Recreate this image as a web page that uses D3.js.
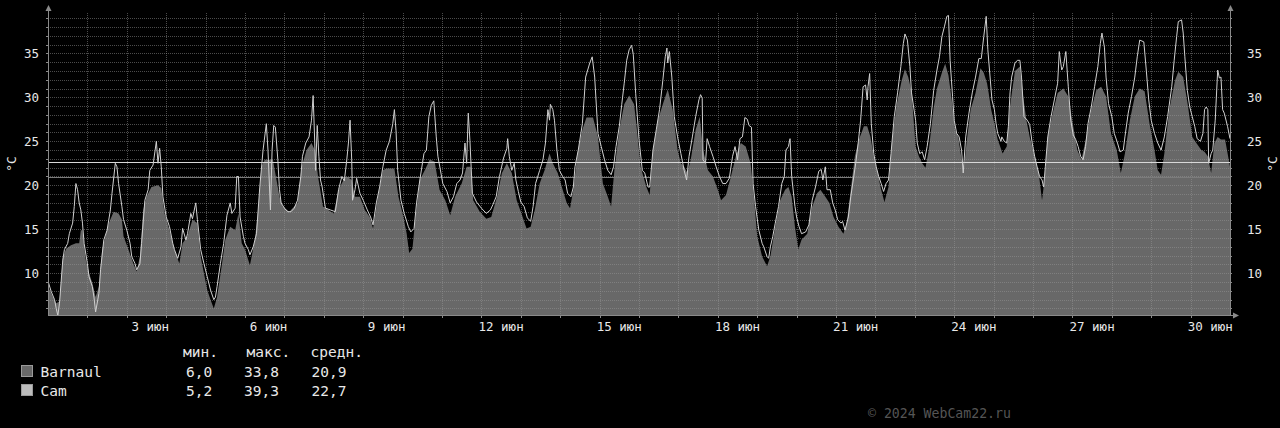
<!DOCTYPE html>
<html>
<head>
<meta charset="utf-8">
<script src="https://cdn.jsdelivr.net/npm/d3@7"></script>
<style>
  html, body { margin: 0; padding: 0; background: #000; }
  svg { display: block; font-family: 'DejaVu Sans Mono', monospace; }
</style>
</head>
<body>
<div id="chart"></div>
<script>
// hours since 1 June 00:00, temperature °C
const barnaul = [
  [0,8.5],[3,7.3],[5,6.6],[7,6.8],[9,11.7],[11,12.8],[14,13.2],[17,13.4],[19,13.4],[20,14.9],[21,14.9],[23,11.5],[25,10.0],[27,8.9],[29,7.3],[31,8.5],[33,12.7],[35,14.2],[37,15.7],[40,17.0],[43,16.8],[45,16.1],[46,14.2],[49,12.7],[52,11.1],[54,10.2],[56,11.9],[58,17.2],[60,18.7],[63,19.8],[67,20.0],[69,19.7],[71,16.8],[74,14.9],[77,12.7],[80,11.1],[82,13.4],[85,14.2],[88,16.1],[91,15.7],[93,11.9],[97,8.1],[99,7.0],[101,6.0],[103,7.3],[106,11.1],[108,13.8],[111,15.3],[114,14.9],[116,16.8],[118,13.4],[120,12.7],[123,10.9],[126,13.8],[128,17.2],[130,22.1],[132,22.9],[137,22.9],[141,18.7],[143,17.6],[147,17.0],
  [152,18.0],[154.5,22.1],[157.5,24.0],[160.5,24.8],[162.5,24.0],[164.5,21.0],[167.5,17.6],[174,16.8],[177,19.5],[180,20.6],[182,21.0],[185,20.6],[187,18.7],[190,18.7],[193,17.2],[196,16.4],[198,15.1],[201,18.7],[204,21.7],[206,21.9],[211,21.9],[213.5,18.7],[216.5,16.4],[218.5,14.5],[220,12.3],[222,12.8],[223.5,15.7],[226.5,20.6],[229.5,21.7],[232.5,22.9],[235.5,22.7],[238.5,19.5],[242,18.3],[245,16.6],[248,18.7],[252,20.2],[255,22.1],[257.5,22.1],[259,18.3],[263,17.0],[267,16.2],[270,16.4],[273.5,18.7],[276.5,21.4],[279.5,22.5],[282.5,21.4],[285.5,18.3],
  [288,17.0],[291.5,15.1],[294,15.3],[296.5,17.2],[299.5,20.2],[302.5,21.7],[305.5,23.6],[307.5,22.5],[310.5,21.4],[313.5,19.5],[316,18.0],[318,17.4],[320,19.5],[322.5,23.6],[325.5,26.3],[328,27.7],[332,27.7],[335,25.5],[338,20.2],[341,18.7],[343,17.6],[345,21.7],[348,26.3],[351,29.2],[354,30.2],[357,29.2],[359,25.9],[361,22.1],[364.5,19.8],[366.5,18.9],[368.5,24.0],[371.5,27.4],[374.5,29.2],[377.5,30.9],[380.5,28.6],[383.5,24.0],[385.5,22.5],[387.5,22.1],[389.5,21.4],[391.5,22.9],[394.5,26.3],[397,27.8],[399,24.0],[402,21.7],[405,21.0],[408,19.5],[410,18.3],[413,18.9],[416,21.0],[419,23.3],[422,24.8],[425,24.4],[428,22.5],[430,18.7],
  [432,14.2],[435,11.9],[438,10.8],[440,11.9],[443,15.3],[446,18.3],[449,19.5],[451,19.8],[453,18.7],[455,15.3],[457,12.7],[459,13.8],[462.5,14.5],[465.5,17.6],[468.5,19.1],[470.5,19.5],[473.5,18.7],[476,18.0],[478.5,16.4],[481.5,15.3],[484.5,14.5],[486.5,15.7],[488.5,18.7],[491.5,23.3],[494,25.2],[497,26.7],[499,26.7],[501,25.5],[503,23.3],[505,21.7],[507.5,19.5],[509.5,18.1],[512,19.8],[514,24.8],[517,29.2],[520,31.9],[522,33.2],[524,32.3],[526,30.7],[528.5,24.4],[530.5,23.3],[532.5,22.5],[534.5,22.0],[536.5,24.0],[539.5,28.8],[541.5,31.0],[544.5,32.8],[546.5,33.8],[548.5,32.5],[550.5,29.7],[552.5,26.3],[554.5,25.5],[556.5,22.9],[558,22.1],[559.5,24.8],[562,28.6],[565,30.5],[568,33.3],[570,32.8],[572,31.6],
  [573,30.5],[574.5,28.6],[576.5,27.0],[578.5,25.2],[581.5,23.6],[584,24.4],[586,29.0],[589,33.0],[592,33.5],[594,30.1],[596,27.4],[598,25.5],[601,23.3],[603.5,21.4],[605.5,18.3],[607,20.6],[609,25.5],[612,28.2],[615,30.5],[618.5,31.0],[621.5,30.1],[624.5,26.7],[627,24.0],[629.5,22.9],[632.5,25.5],[635.5,28.6],[638.5,30.8],[641.5,31.2],[644.5,30.1],[647.5,25.9],[651,24.0],[653.5,21.4],[656,23.6],[659,27.4],[662,30.1],[665,31.0],[668,30.7],[671,27.0],[674,24.0],[676,21.7],[678,21.2],[680,23.6],[683,28.6],[686.5,31.9],[688.5,32.9],[691.5,32.3],[694.5,28.9],[697,25.5],[699.5,24.8],[702.5,24.0],[704.5,23.8],[706.5,23.3],[708.5,21.4],[710.5,24.8],[712.5,25.5],[714.5,25.2],[717,25.2],[720,22.1]
];

const cam = [
  [0,9.1],[2,7.9],[4,7.0],[5,6.0],[6,5.2],[7,6.6],[9,11.5],[10,12.7],[12,13.4],[13,14.5],[15,15.7],[16,17.6],[17,20.2],[18,19.5],[19,18.0],[20,17.2],[21,15.7],[22,13.4],[24,11.1],[25,9.6],[27,8.5],[28,7.3],[29,5.6],[31,7.7],[32,10.4],[34,13.8],[36,14.9],[38,17.2],[39,19.1],[41,22.5],[42,22.1],[43,20.2],[45,17.6],[46,16.1],[48,14.9],[50,13.4],[51,11.9],[53,11.1],[54,10.4],[56,11.1],[57,13.4],[59,18.3],[61,19.5],[62,21.7],[64,22.3],[66,25.0],[67,22.5],[68,24.2],[69,22.1],[70,18.7],[72,16.4],[74,15.3],[76,13.4],[77,12.7],[79,11.7],[81,13.0],[82,15.1],[84,13.8],[85,14.5],[87,16.8],[88,16.2],[90,18.0],[91,16.1],[93,12.7],[95,11.1],[97,9.6],[99,8.1],[101,7.0],[102,7.3],[103,8.5],[105,11.1],[107,13.4],[109,16.6],[111,18.0],[112,16.8],[114,17.4],[115,21.0],[116,21.0],[117,16.4],[119,14.2],[120,13.4],[122,12.7],[123,12.1],[125,13.0],[127,14.5],[129,19.8],[131,24.0],[133,27.0],[134,24.0],[135.5,17.2],[136.5,24.0],[137.5,26.8],[138.5,26.6],[140,22.9],[141,19.5],[142,18.0],[144,17.4],[146,17.0],[148,17.0],
  [150,17.4],[152,18.3],[154,21.0],[155,23.3],[157,24.8],[159,25.5],[160.5,27.4],[161.5,30.2],[162.5,24.8],[163,21.7],[164,26.8],[165,23.3],[166,20.6],[167,19.8],[169,17.4],[172,17.2],[175,17.0],[177,19.5],[179,21.0],[180.5,20.5],[182,22.9],[183,24.8],[184,27.4],[185,22.9],[185.5,18.3],[187,19.5],[188,20.8],[190,19.1],[192,18.3],[194.5,17.2],[196.5,16.4],[198,15.5],[200,18.0],[202,19.8],[204,22.1],[206,24.0],[208,25.0],[210,27.0],[211,28.6],[212,26.2],[213,21.7],[215,18.3],[217,16.8],[219.5,15.3],[221,14.7],[223,15.1],[224.5,18.0],[226.5,20.6],[229,23.6],[230.5,24.0],[232,27.8],[233.5,29.1],[235,29.6],[236.5,25.5],[237.5,23.3],[240.5,20.2],[243,19.3],[245,18.0],[247,18.7],[249,20.2],[251,20.6],[252.5,21.4],[254,24.8],[255,22.5],[256,28.2],[257,25.1],[258.5,19.1],[261,18.1],[264,17.4],[267,16.8],[269.5,17.2],[271,17.8],[273,18.7],[275,21.0],[277.5,23.1],[279.5,24.2],[280,25.3],[281,23.3],[282.5,21.7],[284,22.5],[285,20.6],
  [286.5,19.3],[288,18.1],[290,17.6],[292,16.3],[294,15.9],[295.5,17.6],[297,20.2],[299.5,21.7],[301.5,22.9],[303,24.8],[304.5,28.6],[305.5,27.4],[306,29.2],[307.5,28.6],[308.5,27.4],[310,24.0],[311.5,21.7],[313.5,21.0],[315,20.6],[316.5,19.1],[318.5,18.7],[320,19.8],[321,22.1],[323,24.0],[325.5,27.0],[327.5,32.3],[330,33.9],[331.5,34.6],[333,32.3],[335,25.9],[337,24.4],[339,22.9],[341,21.7],[343,21.2],[344.5,22.1],[346,24.4],[348,26.7],[349.5,29.2],[351,31.6],[352.5,34.2],[354,35.4],[355.5,35.9],[356.5,34.9],[358,30.4],[360,25.2],[362,21.7],[363.5,21.4],[365.5,19.8],[366.5,19.8],[368.5,24.0],[370.5,26.3],[372.5,28.6],[374.5,31.9],[376,34.6],[377,35.6],[377.5,33.9],[378.5,35.2],[380,32.3],[381.5,27.8],[383.5,25.5],[385.5,23.6],[387.5,21.7],[389,20.6],[390.5,23.3],[392.5,25.5],[394.5,27.8],[396.5,29.7],[397.5,30.3],[398.5,29.9],[399,22.9],[400.5,22.5],[401.5,25.3],[403,24.4],[405,23.3],[407,22.1],[409,21.0],[411,20.2],[413,20.2],[415,20.8],[417,23.3],[418.5,24.4],[420,22.9],[421.5,25.3],[423,25.5],[424.5,27.7],[426,27.5],[427,26.8],[428.5,26.6],[429.5,20.2],[431,17.6],[433,14.9],[435,13.4],
  [436,13.0],[438,11.9],[439,11.7],[440,13.0],[441.5,14.2],[443,15.7],[445,17.6],[447,20.2],[448.5,21.0],[449.5,24.0],[451,24.4],[452,25.3],[453,21.0],[455,17.6],[456,16.4],[457.5,15.3],[459,14.5],[461.5,14.7],[463.5,15.5],[465.5,18.3],[467.5,19.8],[469.5,21.6],[471,21.8],[472,20.6],[473.5,22.1],[474.5,19.5],[476.5,19.5],[478,18.0],[479.5,17.2],[481,16.1],[483,15.7],[484,15.9],[485.5,14.9],[487.5,16.4],[489,18.7],[490.5,20.6],[492,22.5],[493.5,24.8],[495,27.4],[496.5,31.2],[498,31.4],[499,29.7],[499.5,31.2],[500.5,32.7],[501.5,27.0],[503,23.6],[504.5,22.1],[506,21.0],[507.5,20.2],[509,19.3],[510.5,20.2],[512,20.6],[513.5,23.6],[515.5,27.8],[517.5,30.5],[519.5,33.5],[521,36.1],[522,37.2],[523.5,36.5],[525,33.5],[526,30.5],[528.5,27.4],[529.5,24.8],[531,23.6],[532.5,23.8],[534,22.9],[535.5,24.4],[537.5,27.0],[539.5,30.8],[541.5,33.1],[543,34.6],[544.5,36.9],[546,38.0],[547.5,39.2],[548.5,39.3],[549.5,34.2],[551,30.1],[552,27.4],[553.5,25.9],[555,25.5],[556.5,24.0],[557.5,21.4],[559,25.5],[561,28.2],[563,30.5],[565,32.3],[567,34.4],[568.5,34.4],[570,36.9],[571.5,39.2],[572.5,35.4],
  [573.5,33.1],[575,29.7],[576.5,28.6],[577.5,27.0],[578.5,25.9],[580.5,25.0],[581,25.5],[582.5,25.0],[584,24.8],[585,26.7],[586,30.5],[587,32.3],[589,33.9],[590.5,34.2],[592,34.2],[593,32.3],[594.5,27.8],[596.5,27.4],[598,26.9],[599.5,24.8],[601,23.3],[602.5,22.1],[604,21.0],[605.5,20.6],[606.5,19.8],[607.5,22.1],[609,25.5],[611,27.8],[613,29.7],[615,31.6],[616,35.2],[617.5,33.1],[618.5,33.5],[620,35.2],[621.5,31.2],[623,27.4],[624.5,25.7],[626,25.2],[627.5,24.4],[629,23.3],[630.5,22.9],[632,24.4],[633.5,27.0],[635.5,28.9],[637.5,31.2],[639.5,33.5],[641,36.1],[642,37.3],[643.5,35.7],[644.5,32.3],[646,29.3],[648,27.8],[649.5,25.9],[651.5,24.8],[653,23.8],[655,24.0],[656,25.5],[658,28.2],[660,30.1],[662,32.3],[663.5,34.6],[665,36.5],[667.5,36.3],[669,33.1],[670.5,29.7],[672,27.4],[674,25.9],[676,24.8],[678,24.0],[680,25.5],[682,27.8],[684.5,31.2],[686,34.2],[687.5,36.9],[688.5,38.6],[690.5,38.8],[691.5,37.3],[692.5,34.6],[694,30.8],[695.5,28.9],[697,27.8],[698.5,26.7],[700,25.3],[702,25.0],[703.5,25.9],[704.5,28.6],[705.5,28.9],[706.5,28.6],[707,22.5],[708.5,23.6],[709.5,24.0],[711,27.4],[712.5,33.1],[713.5,32.2],[714.5,32.3],[715.5,28.6],[716.5,28.2],[718.5,26.7],[720,25.3]
];

const seriesNames = ['Barnaul', 'Cam'];
const statHeaders = ['мин.', 'макс.', 'средн.'];
const barnaulStats = ['6,0', '33,8', '20,9'];
const camStats = ['5,2', '39,3', '22,7'];
const averages = [20.9, 22.7];
const dayLabels = [3, 6, 9, 12, 15, 18, 21, 24, 27, 30];
const yLabels = [10, 15, 20, 25, 30, 35];

const W = 1280, H = 428;
const plot = { left: 48, right: 1230, top: 13, bottom: 315 };

const svg = d3.select('#chart').append('svg')
    .attr('width', W)
    .attr('height', H);

svg.append('rect').attr('width', W).attr('height', H).attr('fill', '#000');

const x = d3.scaleLinear().domain([0, 720]).range([plot.left, plot.right]);
const y = d3.scaleLinear().domain([5.26, 39.58]).range([plot.bottom, plot.top]);

svg.append('clipPath').attr('id', 'clip')
    .append('rect')
    .attr('x', plot.left).attr('y', plot.top)
    .attr('width', plot.right - plot.left).attr('height', plot.bottom - plot.top);

// Barnaul area
const area = d3.area()
    .x(d => x(d[0]))
    .y0(plot.bottom)
    .y1(d => y(d[1]));

svg.append('path')
    .datum(barnaul)
    .attr('clip-path', 'url(#clip)')
    .attr('fill', '#686868')
    .attr('d', area);

// grid
const grid = svg.append('g')
    .attr('stroke', 'rgb(150,150,150)')
    .attr('stroke-opacity', 0.5)
    .attr('stroke-dasharray', '1,1')
    .attr('shape-rendering', 'crispEdges');

grid.selectAll('line.h')
    .data(d3.range(6, 40))
    .enter().append('line')
    .attr('x1', plot.left).attr('x2', plot.right)
    .attr('y1', d => Math.round(y(d)) + 0.5)
    .attr('y2', d => Math.round(y(d)) + 0.5);

grid.selectAll('line.v')
    .data(d3.range(24, 720, 24))
    .enter().append('line')
    .attr('y1', plot.top).attr('y2', plot.bottom)
    .attr('x1', d => Math.round(x(d)) + 0.5)
    .attr('x2', d => Math.round(x(d)) + 0.5);

// average lines
svg.selectAll('line.avg')
    .data(averages)
    .enter().append('line')
    .attr('x1', plot.left).attr('x2', plot.right)
    .attr('y1', d => Math.round(y(d)) + 0.5)
    .attr('y2', d => Math.round(y(d)) + 0.5)
    .attr('stroke', (d, i) => i === 0 ? '#7c7c7c' : '#d8d8d8')
    .attr('stroke-width', 1)
    .attr('shape-rendering', 'crispEdges');

// Cam line
const line = d3.line()
    .x(d => x(d[0]))
    .y(d => y(d[1]));

svg.append('path')
    .datum(cam)
    .attr('clip-path', 'url(#clip)')
    .attr('fill', 'none')
    .attr('stroke', '#d0d0d0')
    .attr('stroke-width', 1)
    .attr('d', line);

// axes
const axisColor = '#8a8a8a';
const textColor = '#e8e8e8';

const fmtY = v => yLabels.includes(v) ? v : '';

const leftAxis = svg.append('g')
    .attr('transform', `translate(${plot.left},0)`)
    .call(d3.axisLeft(y).tickValues(d3.range(6, 40)).tickSize(2).tickPadding(7).tickFormat(fmtY));

const rightAxis = svg.append('g')
    .attr('transform', `translate(${plot.right},0)`)
    .call(d3.axisRight(y).tickValues(d3.range(6, 40)).tickSize(2).tickPadding(15).tickFormat(fmtY));

const bottomAxis = svg.append('g')
    .attr('transform', `translate(0,${plot.bottom})`)
    .call(d3.axisBottom(x).tickValues(d3.range(24, 720, 24)).tickSize(3).tickFormat(''));

[leftAxis, rightAxis, bottomAxis].forEach(g => {
    g.select('.domain').remove();
    g.selectAll('line').attr('stroke', axisColor).attr('shape-rendering', 'crispEdges');
    g.selectAll('text')
        .attr('fill', textColor)
        .style('font-family', "'DejaVu Sans Mono', monospace")
        .style('font-size', '12.5px');
});

// axis lines with arrows
const frame = svg.append('g').attr('stroke', axisColor).attr('shape-rendering', 'crispEdges');
frame.append('line').attr('x1', plot.left + 0.5).attr('x2', plot.left + 0.5).attr('y1', plot.bottom).attr('y2', 8);
frame.append('line').attr('x1', plot.right + 0.5).attr('x2', plot.right + 0.5).attr('y1', plot.bottom).attr('y2', 8);
frame.append('line').attr('x1', plot.left).attr('x2', plot.right + 4).attr('y1', plot.bottom + 0.5).attr('y2', plot.bottom + 0.5);

const arrows = svg.append('g').attr('fill', axisColor);
arrows.append('path').attr('d', `M${plot.left - 2.5},11 L${plot.left + 3.5},11 L${plot.left + 0.5},5 Z`);
arrows.append('path').attr('d', `M${plot.right - 2.5},11 L${plot.right + 3.5},11 L${plot.right + 0.5},5 Z`);
arrows.append('path').attr('d', `M${plot.right + 3},${plot.bottom - 2.5} L${plot.right + 3},${plot.bottom + 3.5} L${plot.right + 9},${plot.bottom + 0.5} Z`);

// day labels, centred at noon
svg.append('g').selectAll('text')
    .data(dayLabels)
    .enter().append('text')
    .attr('x', d => x((d - 1) * 24 + 12))
    .attr('y', 331)
    .attr('text-anchor', 'middle')
    .attr('fill', textColor)
    .style('font-size', '12.5px')
    .style('white-space', 'pre')
    .text(d => String(d).padStart(2, ' ') + ' июн');

// unit labels
[11, 1272].forEach(ux => {
    svg.append('text')
        .attr('transform', `translate(${ux},164) rotate(-90)`)
        .attr('text-anchor', 'middle')
        .attr('dominant-baseline', 'central')
        .attr('fill', textColor)
        .style('font-size', '13px')
        .text('°C');
});

// legend
const legend = svg.append('g').attr('fill', textColor).style('font-size', '14.5px');
const colX = [183, 246.5, 310.5];
const valX = [186, 244, 311.5];

legend.selectAll('text.head')
    .data(statHeaders)
    .enter().append('text')
    .attr('x', (d, i) => colX[i])
    .attr('y', 357)
    .text(d => d);

const rows = [
    { name: seriesNames[0], stats: barnaulStats, color: '#686868', y: 377 },
    { name: seriesNames[1], stats: camStats, color: '#bcbcbc', y: 396 }
];

rows.forEach(r => {
    legend.append('rect')
        .attr('x', 21.5).attr('y', r.y - 11.5)
        .attr('width', 11).attr('height', 11)
        .attr('fill', r.color)
        .attr('stroke', '#9a9a9a')
        .attr('stroke-width', 1);
    legend.append('text').attr('x', 40.5).attr('y', r.y).text(r.name);
    r.stats.forEach((s, i) => {
        legend.append('text').attr('x', valX[i]).attr('y', r.y).text(s);
    });
});

svg.append('text')
    .attr('x', 868)
    .attr('y', 418)
    .attr('fill', '#555')
    .style('font-size', '13.2px')
    .text('© 2024 WebCam22.ru');
</script>
</body>
</html>
